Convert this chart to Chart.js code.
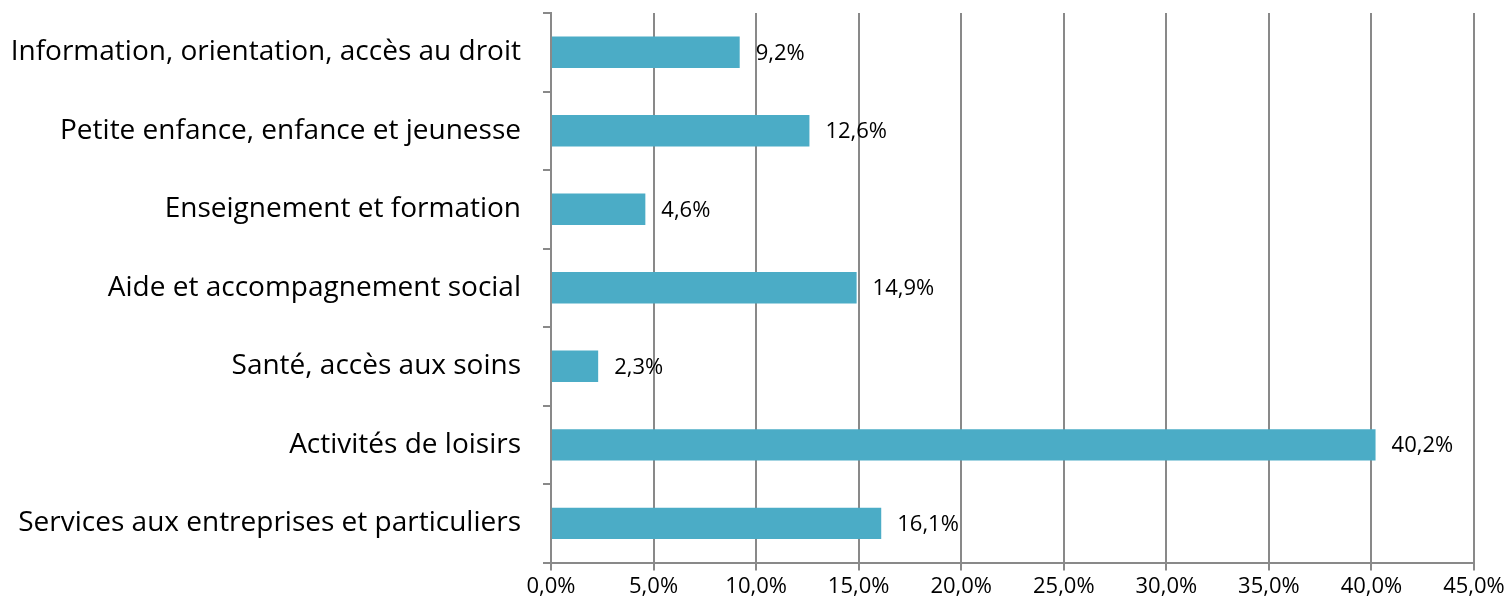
<!DOCTYPE html>
<html>
<head>
<meta charset="utf-8">
<script src="https://cdn.jsdelivr.net/npm/chart.js@4"></script>
<style>
  html, body { margin: 0; padding: 0; background: #fff; }
  #wrap { width: 1509px; height: 606px; }
</style>
</head>
<body>
<div id="wrap"><canvas id="chart"></canvas></div>
<script>
const categories = [
    'Information, orientation, accès au droit',
    'Petite enfance, enfance et jeunesse',
    'Enseignement et formation',
    'Aide et accompagnement social',
    'Santé, accès aux soins',
    'Activités de loisirs',
    'Services aux entreprises et particuliers'
];
const shares = [9.2, 12.6, 4.6, 14.9, 2.3, 40.2, 16.1];
const xTicks = [0, 5, 10, 15, 20, 25, 30, 35, 40, 45];

const FONT = "'Open Sans', sans-serif";
const GREY = '#898989';

function frPct(v, d) {
    return v.toFixed(d).replace('.', ',') + '%';
}

const valueLabels = {
    id: 'valueLabels',
    afterDatasetsDraw(chart) {
        const ctx = chart.ctx;
        const meta = chart.getDatasetMeta(0);
        ctx.save();
        ctx.font = '22px ' + FONT;
        ctx.fillStyle = '#000';
        ctx.textBaseline = 'middle';
        ctx.textAlign = 'left';
        meta.data.forEach((bar, i) => {
            ctx.fillText(frPct(shares[i], 1), bar.x + 16, bar.y + 1);
        });
        ctx.restore();
    }
};

function CreateGraph() {
    const ctx = document.getElementById('chart').getContext('2d');

    const data = {
        labels: categories,
        datasets: [{
            data: shares,
            backgroundColor: '#4BACC6',
            borderWidth: 0,
            barPercentage: 0.4,
            categoryPercentage: 1
        }]
    };

    const config = {
        type: 'bar',
        data: data,
        plugins: [valueLabels],
        options: {
            indexAxis: 'y',
            responsive: true,
            maintainAspectRatio: false,
            animation: false,
            layout: { padding: { left: 10, right: 35, top: 13, bottom: 3 } },
            plugins: {
                legend: { display: false },
                tooltip: { enabled: false }
            },
            scales: {
                x: {
                    min: 0,
                    max: 45,
                    afterBuildTicks(scale) {
                        scale.ticks = xTicks.map(v => ({ value: v }));
                    },
                    ticks: {
                        color: '#000',
                        font: { family: FONT, size: 22 },
                        padding: 3,
                        maxRotation: 0,
                        callback: v => frPct(v, 1)
                    },
                    grid: {
                        color: GREY,
                        lineWidth: 2,
                        tickLength: 8
                    },
                    border: { color: GREY, width: 2 }
                },
                y: {
                    afterFit(scale) {
                        scale.width = 541;
                        scale.paddingTop = 0;
                        scale.paddingBottom = 0;
                    },
                    ticks: {
                        color: '#000',
                        font: { family: FONT, size: 28 },
                        padding: 22
                    },
                    grid: {
                        color: GREY,
                        lineWidth: 2,
                        tickLength: 8,
                        drawOnChartArea: false,
                        offset: true
                    },
                    border: { color: GREY, width: 2 }
                }
            }
        }
    };

    window.chart = new Chart(ctx, config);
}

CreateGraph();
</script>
</body>
</html>
